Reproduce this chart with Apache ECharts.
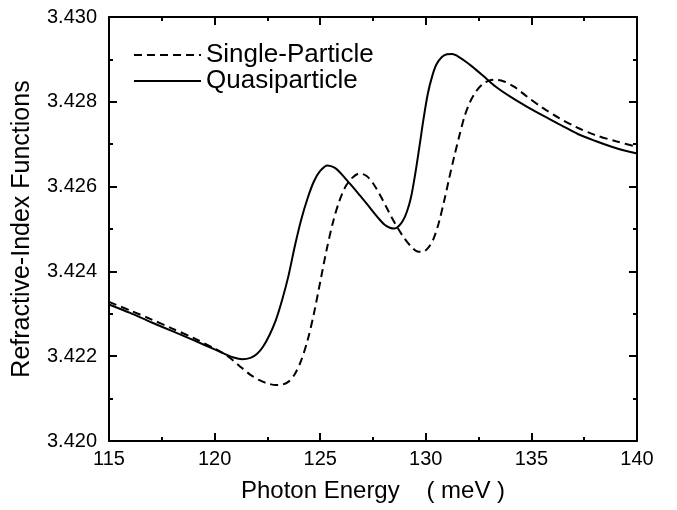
<!DOCTYPE html>
<html>
<head>
<meta charset="utf-8">
<script src="https://cdn.jsdelivr.net/npm/echarts@6/dist/echarts.min.js"></script>
<style>html,body{margin:0;padding:0;background:#fff}#c{width:677px;height:510px}</style>
</head>
<body>
<div id="c"></div>
<script>
// Quasiparticle (solid)
const quasiEnergy = [115, 116, 117, 118, 119, 120, 120.5, 120.9, 121.3, 121.7, 122.0, 122.3, 122.6, 122.9, 123.2, 123.5, 123.8, 124.1, 124.4, 124.7, 125.0, 125.35, 125.7, 126.0, 126.3, 126.6, 126.9, 127.2, 127.5, 127.8, 128.05, 128.3, 128.5, 128.7, 128.9, 129.1, 129.3, 129.5, 129.7, 129.9, 130.1, 130.3, 130.5, 130.75, 131.0, 131.25, 131.5, 131.8, 132.2, 132.7, 133.3, 134.0, 134.8, 135.6, 136.4, 137.2, 138.0, 138.8, 139.4, 140];
const quasiIndex = [3.42322, 3.42302, 3.42280, 3.42259, 3.42238, 3.42216, 3.42205, 3.42197, 3.42193, 3.42196, 3.42205, 3.42223, 3.42250, 3.42285, 3.42333, 3.42390, 3.42460, 3.42522, 3.42572, 3.42612, 3.42637, 3.42650, 3.42644, 3.42630, 3.42613, 3.42596, 3.42578, 3.42560, 3.42541, 3.42523, 3.42510, 3.42503, 3.42501, 3.42506, 3.42518, 3.42540, 3.42575, 3.42630, 3.42695, 3.42762, 3.42820, 3.42860, 3.42888, 3.42905, 3.42912, 3.42913, 3.42908, 3.42898, 3.42883, 3.42862, 3.42836, 3.42812, 3.42788, 3.42766, 3.42745, 3.42724, 3.42708, 3.42694, 3.42685, 3.42678];
// Single-particle (dashed)
const singleEnergy = [115, 116, 117, 118, 119, 120, 120.5, 120.9, 121.3, 121.7, 122.1, 122.5, 122.9, 123.2, 123.5, 123.8, 124.1, 124.4, 124.7, 125.0, 125.3, 125.6, 125.9, 126.2, 126.5, 126.85, 127.2, 127.5, 127.8, 128.1, 128.4, 128.7, 129.0, 129.3, 129.6, 129.85, 130.1, 130.35, 130.6, 130.85, 131.1, 131.35, 131.6, 131.85, 132.1, 132.4, 132.7, 133.0, 133.3, 133.7, 134.2, 134.8, 135.5, 136.3, 137.1, 138.0, 139.0, 140];
const singleIndex = [3.42328, 3.42308, 3.42287, 3.42265, 3.42243, 3.42218, 3.42204, 3.42189, 3.42172, 3.42156, 3.42144, 3.42136, 3.42132, 3.42133, 3.42140, 3.42158, 3.42190, 3.42237, 3.42300, 3.42375, 3.42450, 3.42515, 3.42565, 3.42600, 3.42620, 3.42631, 3.42625, 3.42608, 3.42583, 3.42555, 3.42526, 3.42500, 3.42477, 3.42459, 3.42447, 3.42446, 3.42455, 3.42475, 3.42512, 3.42562, 3.42618, 3.42672, 3.42722, 3.42768, 3.42800, 3.42826, 3.42842, 3.42850, 3.42852, 3.42848, 3.42835, 3.42812, 3.42787, 3.42762, 3.42741, 3.42722, 3.42707, 3.42694];

const seriesNames = ['Single-Particle', 'Quasiparticle'];
const xTitle = 'Photon Energy    ( meV )';
const yTitle = 'Refractive-Index Functions';

const FONT = '"Liberation Sans", Arial, Helvetica, sans-serif';
const pairs = (xs, ys) => xs.map((x, i) => [x, ys[i]]);

const axisLine = { show: true, onZero: false, lineStyle: { color: '#000', width: 2 } };
const xCommon = {
  type: 'value', min: 115, max: 140, interval: 5,
  axisLine: axisLine,
  axisTick: { show: true, inside: true, length: 8, lineStyle: { color: '#000', width: 2 } },
  minorTick: { show: true, splitNumber: 2, length: 4, lineStyle: { color: '#000', width: 2 } },
  splitLine: { show: false }
};
const yCommon = {
  type: 'value', min: 3.420, max: 3.430, interval: 0.002,
  axisLine: axisLine,
  axisTick: { show: true, inside: true, length: 8, lineStyle: { color: '#000', width: 2 } },
  minorTick: { show: true, splitNumber: 2, length: 4, lineStyle: { color: '#000', width: 2 } },
  splitLine: { show: false }
};

const chart = echarts.init(document.getElementById('c'), null, { renderer: 'canvas' });
chart.setOption({
  animation: false,
  backgroundColor: '#fff',
  textStyle: { fontFamily: FONT, color: '#000' },
  grid: { left: 109, right: 40, top: 17, bottom: 69, containLabel: false },
  legend: {
    orient: 'vertical', left: 128, top: 37,
    data: seriesNames,
    itemWidth: 67, itemHeight: 14, itemGap: 0,
    itemStyle: { opacity: 0 },
    textStyle: { fontFamily: FONT, fontSize: 26, color: '#000', lineHeight: 26 }
  },
  xAxis: [
    Object.assign({}, xCommon, {
      position: 'bottom',
      name: xTitle, nameLocation: 'middle', nameGap: 38,
      nameTextStyle: { fontFamily: FONT, fontSize: 24, color: '#000' },
      axisLabel: { show: true, fontFamily: FONT, fontSize: 20, color: '#000', margin: 8 }
    }),
    Object.assign({}, xCommon, { position: 'top', axisLabel: { show: false } })
  ],
  yAxis: [
    Object.assign({}, yCommon, {
      position: 'left',
      name: yTitle, nameLocation: 'middle', nameGap: 74, nameRotate: 90,
      nameTextStyle: { fontFamily: FONT, fontSize: 25, color: '#000' },
      axisLabel: { show: true, fontFamily: FONT, fontSize: 20, color: '#000', margin: 12,
        formatter: v => v.toFixed(3) }
    }),
    Object.assign({}, yCommon, { position: 'right', axisLabel: { show: false } })
  ],
  series: [
    {
      name: seriesNames[0], type: 'line', xAxisIndex: 0, yAxisIndex: 0,
      data: pairs(singleEnergy, singleIndex),
      smooth: 0.3, showSymbol: false, symbol: 'none',
      lineStyle: { color: '#000', width: 2, type: [8, 5] },
      itemStyle: { color: '#000' }
    },
    {
      name: seriesNames[1], type: 'line', xAxisIndex: 0, yAxisIndex: 0,
      data: pairs(quasiEnergy, quasiIndex),
      smooth: 0.3, showSymbol: false, symbol: 'none',
      lineStyle: { color: '#000', width: 2, type: 'solid' },
      itemStyle: { color: '#000' }
    }
  ]
});
</script>
</body>
</html>
